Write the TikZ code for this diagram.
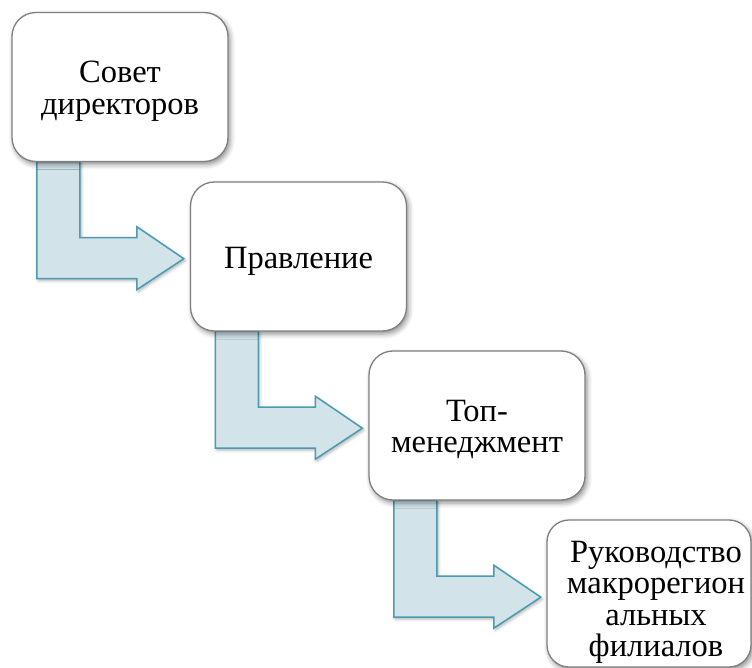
\documentclass[tikz,border=0pt]{standalone}
\usepackage{fontspec}
\setmainfont{Liberation Serif}
\usetikzlibrary{shadows.blur}
\definecolor{arrfill}{HTML}{D2E3EA}
\definecolor{arrline}{HTML}{4A9BB1}
\definecolor{boxline}{HTML}{7F7F7F}
\tikzset{
  boxframe/.style={minimum width=216pt, minimum height=149pt, inner sep=0pt},
  stepbox/.style={boxframe, draw=boxline, line width=1.3pt, fill=white, rounded corners=24pt,
    blur shadow={shadow xshift=2pt, shadow yshift=-3pt, shadow blur radius=5pt, shadow opacity=45}},
  boxtext/.style={align=center, inner sep=0pt, font=\fontsize{32.5}{31.5}\selectfont},
  bentarrow/.style={draw=arrline, line width=1.5pt, fill=arrfill, line join=miter,
    blur shadow={shadow xshift=1.5pt, shadow yshift=-2pt, shadow blur radius=3pt, shadow opacity=30}}
}
\begin{document}
\begin{tikzpicture}[x=1pt, y=-1pt]
\useasboundingbox (0,0) rectangle (752,668);
\path (120,87) coordinate (c1) (298.5,256.5) coordinate (c2) (477,425.5) coordinate (c3);
% frames used for placing the arrows
\node[boxframe] (f1) at (c1) {};
\node[boxframe] (f2) at (c2) {};
\node[boxframe] (f3) at (c3) {};
% arrows
\foreach \b in {f1,f2,f3}{
  \draw[bentarrow, shift={(\b.south west)}]
    (25,0) -- (68,0) -- (68,76) -- (125,76) -- (125,65) -- (172,97)
    -- (125,128) -- (125,117) -- (25,117) -- cycle;
}
\node[stepbox] (n1) at (c1) {};
\node[stepbox] (n2) at (c2) {};
\node[stepbox] (n3) at (c3) {};
\node[stepbox, minimum width=204pt, minimum height=147pt, rounded corners=22pt] (n4) at (649,593.5) {};
\node[boxtext] (t1) at ([yshift=-4pt]n1.center) {Совет\\директоров};
\node[boxtext] (t2) at ([yshift=-5pt]n2.center) {Правление};
\node[boxtext] (t3) at ([yshift=-4pt]n3.center) {Топ-\\менеджмент};
\node[boxtext] (t4) at (656,602.5) {Руководство\\макрорегион\\альных\\филиалов};
\end{tikzpicture}
\end{document}
